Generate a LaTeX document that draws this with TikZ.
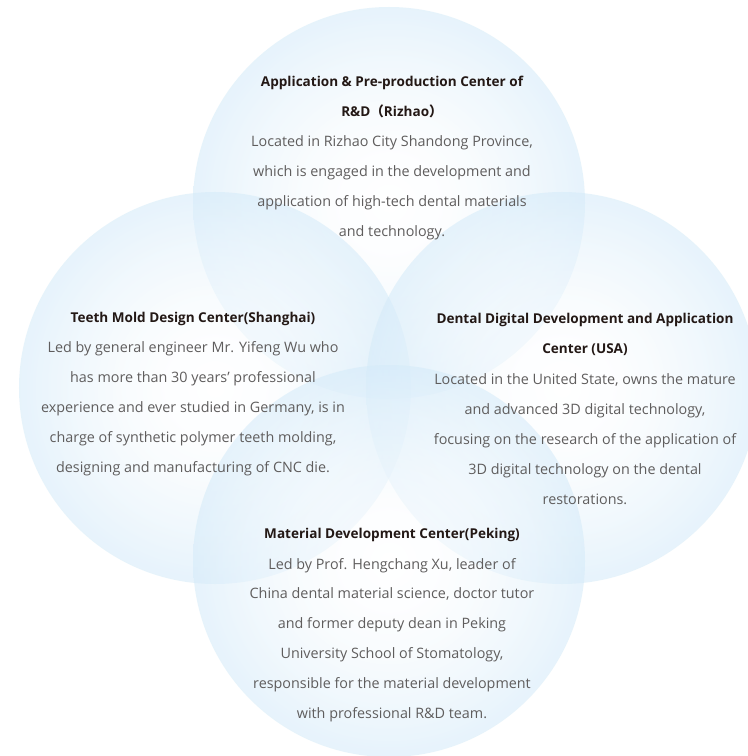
\documentclass[tikz,border=0pt]{standalone}
\usepackage{fontspec}
\setmainfont{Open Sans}
\newfontfamily\cjkfont{Noto Sans CJK SC}
\definecolor{edgeblue}{RGB}{120,190,237}
\definecolor{titlecol}{RGB}{35,24,21}
\definecolor{bodycol}{RGB}{95,93,93}
\pgfdeclareradialshading{bubbleshade}{\pgfpointorigin}{%
  color(0bp)=(white);
  color(6.25bp)=(edgeblue!2!white);
  color(12.5bp)=(edgeblue!9!white);
  color(18.75bp)=(edgeblue!19!white);
  color(25bp)=(edgeblue!31!white);
  color(31.25bp)=(edgeblue!45!white);
  color(37.5bp)=(edgeblue!61!white);
  color(43.75bp)=(edgeblue!80!white);
  color(50bp)=(edgeblue)}
\tikzset{
  bubble/.style={shading=bubbleshade, opacity=0.58},
  titletext/.style={font=\bfseries\fontsize{13.6}{30}\selectfont, text=titlecol, align=center, inner sep=0pt},
  bodytext/.style={font=\fontsize{14.4}{30}\selectfont, text=bodycol, align=center, inner sep=0pt}
}
\begin{document}
\begin{tikzpicture}[x=1bp,y=-1bp]
\useasboundingbox (0,0) rectangle (748,756);
\fill[white] (0,0) rectangle (748,756);
\coordinate (ctop) at (389,203);
\coordinate (cleft) at (215,388);
\coordinate (cright) at (562,388);
\coordinate (cbottom) at (389,561);
\begin{scope}
\clip (0,0) rectangle (748,756);
\shade[bubble] (ctop) circle (196bp);
\shade[bubble] (cleft) circle (196bp);
\shade[bubble] (cright) circle (196bp);
\shade[bubble] (cbottom) circle (196bp);
\end{scope}

\node[titletext] (toptitle) at (392,97) {Application \& Pre-production Center of\\R\&D{\cjkfont （}Rizhao{\cjkfont ）}};
\node[bodytext] (topbody) at (392,188) {Located in Rizhao City Shandong Province,\\which is engaged in the development and\\application of high-tech dental materials\\and technology.};

\node[titletext] (lefttitle) at (193,319) {Teeth Mold Design Center(Shanghai)};
\node[bodytext] (leftbody) at (193,409) {Led by general engineer Mr. Yifeng Wu who\\has more than 30 years’ professional\\experience and ever studied in Germany, is in\\charge of synthetic polymer teeth molding,\\designing and manufacturing of CNC die.};

\node[titletext] (righttitle) at (585,334) {Dental Digital Development and Application\\Center (USA)};
\node[bodytext] (rightbody) at (585,439) {Located in the United State, owns the mature\\and advanced 3D digital technology,\\focusing on the research of the application of\\3D digital technology on the dental\\restorations.};

\node[titletext] (bottomtitle) at (392,535) {Material Development Center(Peking)};
\node[bodytext] (bottombody) at (392,640) {Led by Prof. Hengchang Xu, leader of\\China dental material science, doctor tutor\\and former deputy dean in Peking\\University School of Stomatology,\\responsible for the material development\\with professional R\&D team.};
\end{tikzpicture}
\end{document}
